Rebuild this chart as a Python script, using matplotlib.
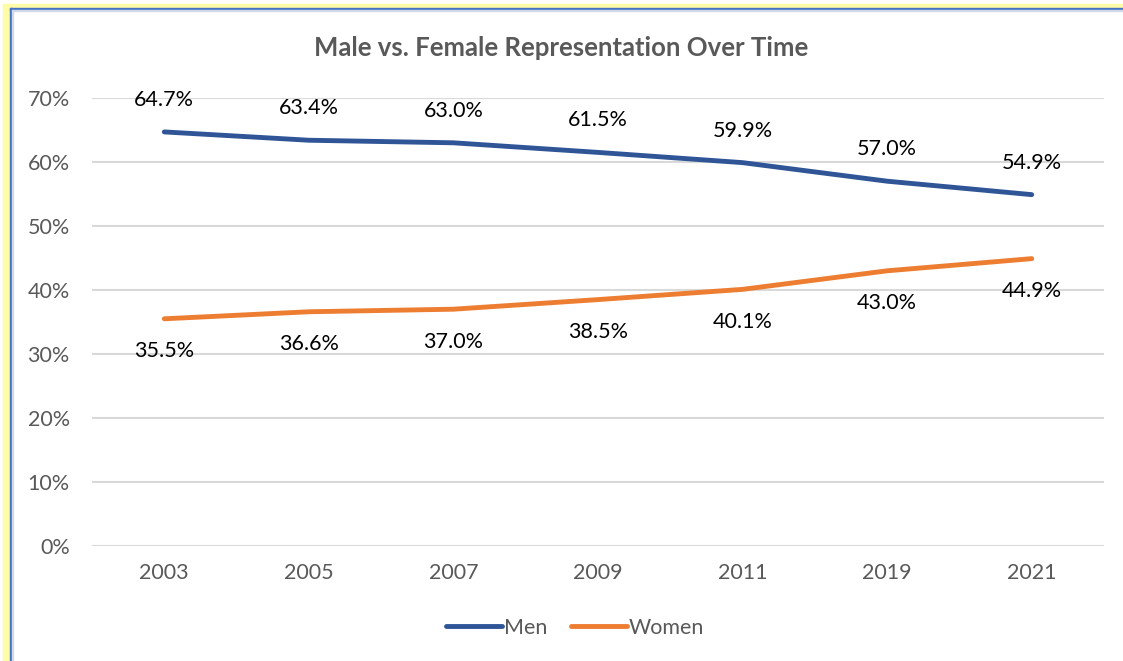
import matplotlib
matplotlib.use("Agg")
import matplotlib.pyplot as plt
from matplotlib.patches import Rectangle
from matplotlib.ticker import FuncFormatter

years = ["2003", "2005", "2007", "2009", "2011", "2019", "2021"]
men = [64.7, 63.4, 63.0, 61.5, 59.9, 57.0, 54.9]
women = [35.5, 36.6, 37.0, 38.5, 40.1, 43.0, 44.9]
yticks = [0, 10, 20, 30, 40, 50, 60, 70]

FONT = ["Lato", "DejaVu Sans"]
plt.rcParams['font.family'] = FONT

W, H = 1123, 661
fig = plt.figure(figsize=(W / 100, H / 100), dpi=100)
fig.patch.set_facecolor("white")

# screenshot border (yellow + blue)
def px_rect(x0, y0, x1, y1, color):
    fig.patches.append(Rectangle((x0 / W, 1 - y1 / H), (x1 - x0) / W, (y1 - y0) / H,
                                 transform=fig.transFigure, color=color, zorder=0))
px_rect(3, 4, 10, H, "#FFFCA8")
px_rect(3, 4, W, 8, "#FFFCA8")
px_rect(10, 8, 12, H, "#4472C4")
px_rect(10, 8, W, 10, "#4472C4")
px_rect(12, 10, 13, H, "#D0D8E8")
px_rect(12, 10, W, 11, "#D0D8E8")

ax = fig.add_axes([92 / W, 1 - 546 / H, (1104 - 92) / W, (546 - 98) / H])
x = list(range(len(years)))
ax.plot(x, men, color="#2F5597", lw=3.5, solid_capstyle="round", label="Men", clip_on=False, zorder=3)
ax.plot(x, women, color="#ED7D31", lw=3.5, solid_capstyle="round", label="Women", clip_on=False, zorder=3)

for xi, v in zip(x, men):
    ax.annotate(f"{v:.1f}%", (xi, v), xytext=(0, 23), textcoords="offset points",
                ha="center", va="center", fontsize=15.5, color="#000000", zorder=4)
for xi, v in zip(x, women):
    ax.annotate(f"{v:.1f}%", (xi, v), xytext=(0, -23.5), textcoords="offset points",
                ha="center", va="center", fontsize=15.5, color="#000000", zorder=4)

ax.set_xlim(-0.5, len(years) - 0.5)
ax.set_ylim(0, 70)
ax.set_yticks(yticks)
ax.yaxis.set_major_formatter(FuncFormatter(lambda v, p: f"{v:.0f}%"))
ax.set_xticks(x)
ax.set_xticklabels(years)
ax.grid(axis="y", color="#D9D9D9", lw=1.5)
ax.set_axisbelow(True)
for s in ax.spines.values():
    s.set_visible(False)
ax.tick_params(length=0, labelsize=15.5, colors="#595959")
ax.tick_params(axis="y", pad=16)
ax.tick_params(axis="x", pad=12)

fig.text(0.5, 1 - 48 / H, "Male vs. Female Representation Over Time", ha="center", va="center",
         fontsize=18.5, fontweight="bold", color="#595959")

leg = fig.legend(loc="center", bbox_to_anchor=(575 / W, 1 - 628 / H), ncol=2, frameon=False,
                 fontsize=15.5, handlelength=2.6, handletextpad=0.1, columnspacing=1.1)
for t in leg.get_texts():
    t.set_color("#595959")

fig.savefig("out.png", dpi=100, facecolor="white")
